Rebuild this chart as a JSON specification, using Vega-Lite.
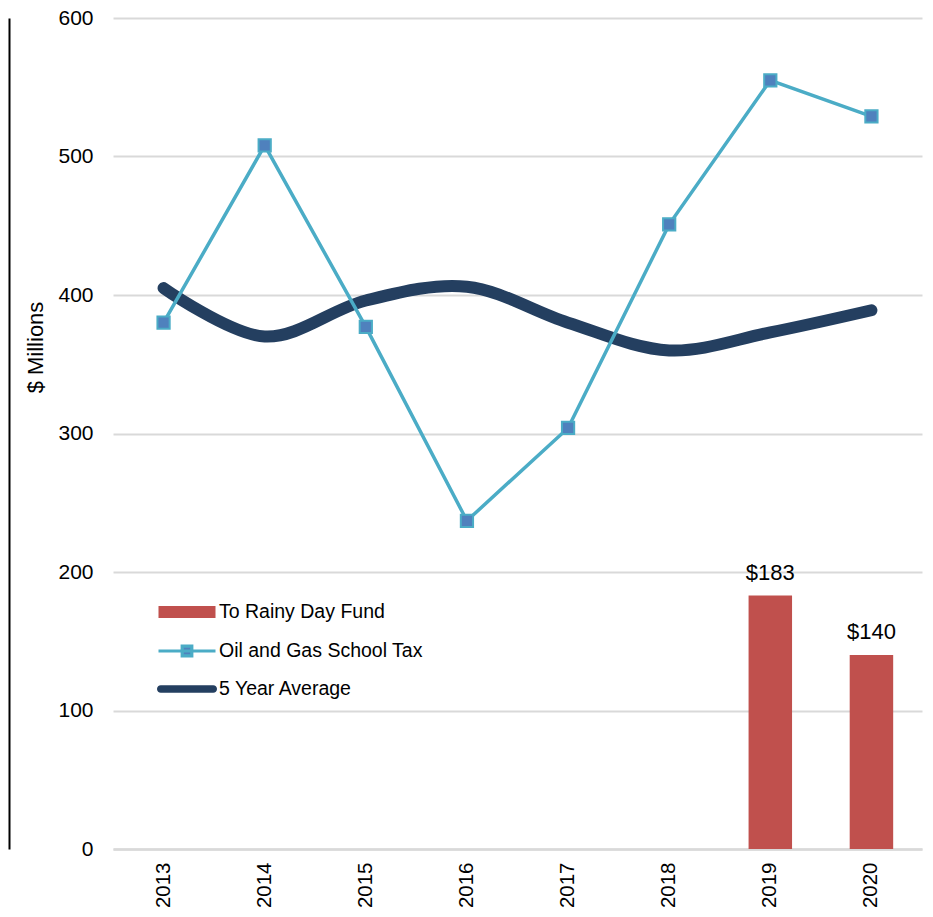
{
  "$schema": "https://vega.github.io/schema/vega-lite/v6.json",
  "autosize": "none",
  "width": 809,
  "height": 831,
  "padding": {"left": 113, "top": 18, "right": 11, "bottom": 68},
  "background": "white",
  "config": {
    "font": "Liberation Sans",
    "view": {"stroke": null},
    "axis": {"labelFont": "Liberation Sans", "titleFont": "Liberation Sans", "labelColor": "#000000", "titleColor": "#000000"}
  },
  "datasets": {
    "rows": [
      {"year": "2013", "oil": 380, "avg": 405, "fund": null},
      {"year": "2014", "oil": 508, "avg": 370, "fund": null},
      {"year": "2015", "oil": 377, "avg": 396, "fund": null},
      {"year": "2016", "oil": 237, "avg": 406, "fund": null},
      {"year": "2017", "oil": 304, "avg": 380, "fund": null},
      {"year": "2018", "oil": 451, "avg": 360, "fund": null},
      {"year": "2019", "oil": 555, "avg": 373, "fund": 183},
      {"year": "2020", "oil": 529, "avg": 389, "fund": 140}
    ],
    "legend": [
      {"series": "To Rainy Day Fund"},
      {"series": "Oil and Gas School Tax"},
      {"series": "5 Year Average"}
    ]
  },
  "resolve": {"scale": {"y": "independent"}, "axis": {"y": "independent"}},
  "layer": [
    {
      "data": {"name": "rows"},
      "encoding": {
        "x": {
          "field": "year", "type": "ordinal",
          "scale": {"paddingInner": 0.57, "paddingOuter": 0.285},
          "axis": {
            "title": null, "labelAngle": -90, "labelFontSize": 20.5, "labelPadding": 13,
            "ticks": false, "domainColor": "#d9d9d9", "domainWidth": 2.5, "grid": false
          }
        }
      },
      "layer": [
        {
          "mark": {"type": "bar", "color": "#c0504d"},
          "encoding": {
            "y": {
              "field": "fund", "type": "quantitative",
              "scale": {"domain": [0, 600], "nice": false},
              "axis": {
                "orient": "left",
                "title": "$ Millions", "titleFontSize": 22, "titleFontWeight": "normal",
                "titleX": -78, "titleY": 329, "titleAngle": -90, "titleAlign": "center", "titleBaseline": "middle",
                "values": [0, 100, 200, 300, 400, 500, 600],
                "labelFontSize": 21, "labelPadding": 20, "ticks": false, "domain": false,
                "gridColor": "#d9d9d9", "gridWidth": 2
              }
            }
          }
        },
        {
          "mark": {"type": "text", "fontSize": 22, "dy": -23, "color": "#000000"},
          "transform": [{"filter": "datum.fund != null"}],
          "encoding": {
            "y": {"field": "fund", "type": "quantitative"},
            "text": {"field": "fund", "type": "quantitative", "format": "$d"}
          }
        },
        {
          "mark": {"type": "line", "color": "#243f60", "strokeWidth": 12, "strokeCap": "round", "interpolate": "catmull-rom"},
          "encoding": {"y": {"field": "avg", "type": "quantitative"}}
        },
        {
          "mark": {"type": "line", "color": "#4bacc6", "strokeWidth": 3.5},
          "encoding": {"y": {"field": "oil", "type": "quantitative"}}
        },
        {
          "mark": {"type": "point", "shape": "square", "filled": true, "fill": "#4f81bd", "stroke": "#4bacc6", "strokeWidth": 2, "size": 150, "opacity": 1},
          "encoding": {"y": {"field": "oil", "type": "quantitative"}}
        }
      ]
    },
    {
      "data": {"name": "legend"},
      "mark": {"type": "point", "opacity": 1, "strokeWidth": 3.2},
      "encoding": {
        "y": {
          "datum": 0, "type": "quantitative",
          "scale": {"domain": [0, 600], "nice": false},
          "axis": {"orient": "left", "offset": 104, "labels": false, "ticks": false, "grid": false, "title": null, "domainColor": "#000000", "domainWidth": 2}
        },
        "size": {"value": 0},
        "fill": {
          "field": "series", "type": "nominal",
          "scale": {"domain": ["To Rainy Day Fund", "Oil and Gas School Tax", "5 Year Average"], "range": ["#c0504d", "#4f81bd", "#243f60"]},
          "legend": {"title": null, "orient": "none", "legendX": 57, "legendY": 577, "labelFontSize": 19.5, "labelColor": "#000000", "labelOffset": 15, "labelLimit": 400, "rowPadding": 9, "symbolSize": 900, "symbolOpacity": 1, "symbolStrokeWidth": 3.2}
        },
        "stroke": {
          "field": "series", "type": "nominal",
          "scale": {"domain": ["To Rainy Day Fund", "Oil and Gas School Tax", "5 Year Average"], "range": ["transparent", "#4bacc6", "transparent"]},
          "legend": {"title": null, "orient": "none", "legendX": 57, "legendY": 577, "labelFontSize": 19.5, "labelColor": "#000000", "labelOffset": 15, "labelLimit": 400, "rowPadding": 9, "symbolSize": 900, "symbolOpacity": 1, "symbolStrokeWidth": 3.2}
        },
        "shape": {
          "field": "series", "type": "nominal",
          "scale": {"domain": ["To Rainy Day Fund", "Oil and Gas School Tax", "5 Year Average"], "range": ["M-1.9,-0.4H1.9V0.4H-1.9Z", "M-1.9,0H1.9M-0.32,-0.32H0.32V0.32H-0.32Z", "M-1.75,-0.25H1.75A0.25,0.25 0 0 1 1.75,0.25H-1.75A0.25,0.25 0 0 1 -1.75,-0.25Z"]},
          "legend": {"title": null, "orient": "none", "legendX": 57, "legendY": 577, "labelFontSize": 19.5, "labelColor": "#000000", "labelOffset": 15, "labelLimit": 400, "rowPadding": 9, "symbolSize": 900, "symbolOpacity": 1, "symbolStrokeWidth": 3.2}
        }
      }
    }
  ]
}
